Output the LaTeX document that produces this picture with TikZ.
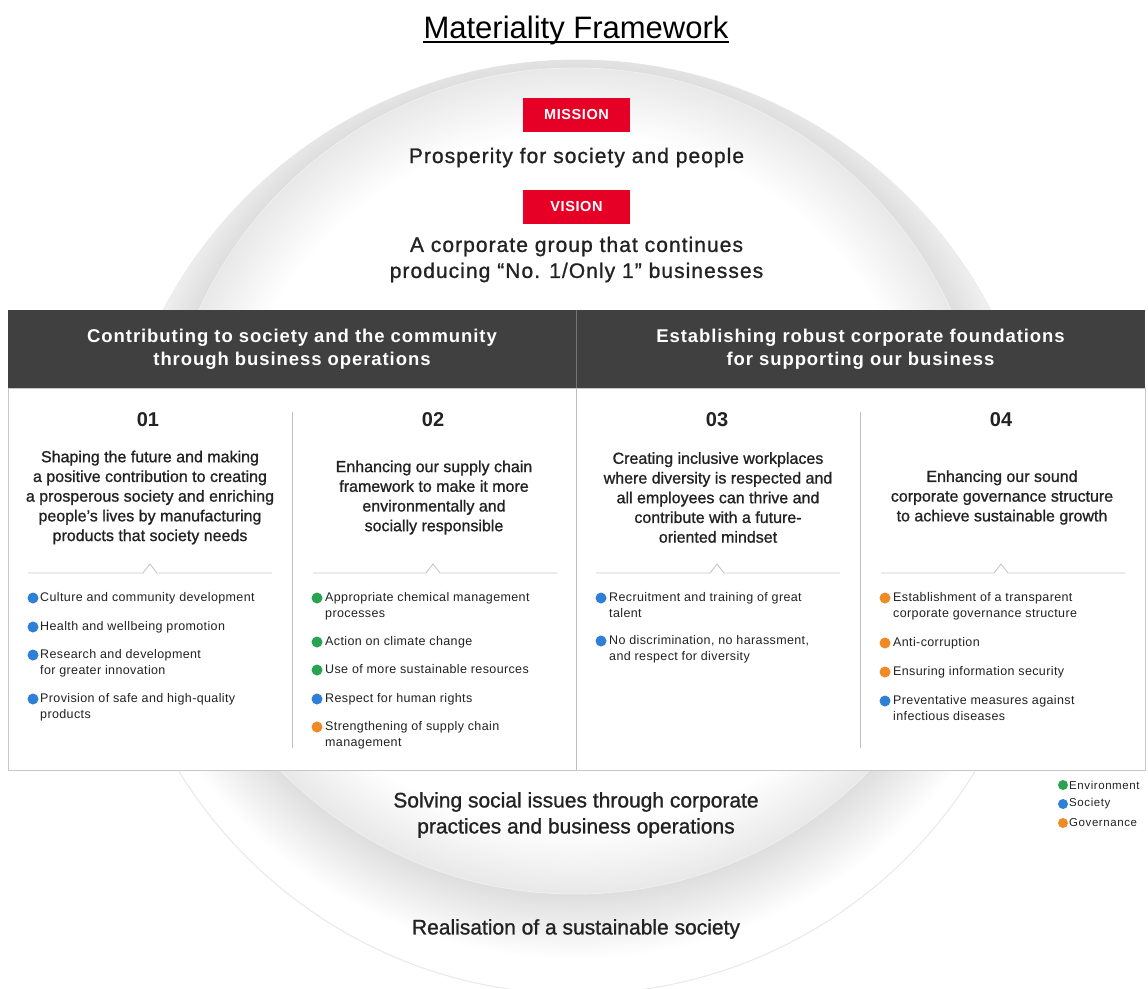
\documentclass[tikz,border=0pt]{standalone}
\usepackage{fontspec}
\setmainfont{Liberation Sans}
\newfontfamily\medfont[FakeBold=1]{Liberation Sans}
\definecolor{mred}{RGB}{230,0,38}
\definecolor{banddark}{RGB}{64,64,64}
\definecolor{inkdark}{RGB}{34,34,34}
\definecolor{envgreen}{RGB}{40,164,80}
\definecolor{socblue}{RGB}{45,128,214}
\definecolor{govorange}{RGB}{240,138,36}
\pgfdeclareradialshading{innerfade}{\pgfpoint{0bp}{0bp}}{color(0bp)=(white); color(21bp)=(white); color(25bp)=(black!9); color(50bp)=(black!9)}
\pgfdeclareradialshading{shadowfade}{\pgfpoint{0bp}{0bp}}{color(0bp)=(black!13); color(21.6bp)=(black!13); color(25bp)=(white); color(50bp)=(white)}

\begin{document}
\begin{tikzpicture}[x=1pt, y=-1pt,
  tagbox/.style={fill=mred, text=white, minimum width=107pt, minimum height=34pt, inner sep=0pt,
    font=\fontsize{14.5}{16}\selectfont\bfseries\addfontfeature{LetterSpace=4}},
  leadtext/.style={text=inkdark, inner sep=0pt, align=center,
    font=\medfont\fontsize{21}{26}\selectfont\addfontfeature{LetterSpace=5}},
  band/.style={fill=banddark, text=white, inner sep=0pt, align=center, minimum height=78pt,
    font=\fontsize{18.5}{23}\selectfont\bfseries\addfontfeature{LetterSpace=5}},
  numtext/.style={text=inkdark, inner sep=0pt, font=\fontsize{20}{24}\selectfont\bfseries},
  desctext/.style={text=inkdark, inner sep=0pt, align=center, font=\medfont\fontsize{16}{19.7}\selectfont},
  itemtext/.style={text=inkdark, inner sep=0pt, align=left, anchor=north west,
    font=\fontsize{12.5}{16.5}\selectfont\addfontfeature{LetterSpace=3}},
  bulletdot/.style={circle, inner sep=0pt, minimum size=11pt},
  caretline/.style={draw=black!22, line width=0.9pt},
  coldiv/.style={draw=black!25, line width=0.8pt},
  foottext/.style={text=inkdark, inner sep=0pt, align=center, font=\medfont\fontsize{21}{26}\selectfont},
  keytext/.style={text=inkdark, inner sep=0pt, anchor=west,
    font=\fontsize{11.5}{14}\selectfont\addfontfeature{LetterSpace=5}}]

\useasboundingbox (0,0) rectangle (1148,988);

% the two spheres
\fill[white, draw=black!9, line width=1pt] (577,527) circle[radius=467];
\begin{scope}
  \clip (577,527) circle[radius=467];
  \shade[shading=shadowfade] (575,481) circle[radius=478];
\end{scope}
\shade[shading=innerfade] (575,481) circle[radius=413];
\draw[black!6, line width=0.8pt] (575,481) circle[radius=413];

% title
\node[inner sep=0pt, anchor=base, text=black, font=\fontsize{31}{36}\selectfont] (title) at (576,38) {Materiality Framework};
\draw[line width=1.6pt] ([yshift=-4pt]title.base west) -- ([yshift=-4pt]title.base east);

% mission and vision
\node[tagbox] (mission) at (576.5,115) {MISSION};
\node[leadtext, anchor=base] (missiontxt) at (576.5,163) {Prosperity for society and people};
\node[tagbox] (vision) at (576.5,206.5) {VISION};
\node[leadtext] (visiontxt) at (576.5,259.5) {A corporate group that continues\\producing “No. 1/Only 1” businesses};

% header band and panel
\node[band, minimum width=568pt] (bandL) at (292,349) {Contributing to society and the community\\through business operations};
\node[band, minimum width=569pt] (bandR) at (860.5,349) {Establishing robust corporate foundations\\for supporting our business};
\draw[black!55, line width=0.8pt] (bandL.north east) -- (bandL.south east);
\node[draw=black!22, fill=white, line width=0.9pt, minimum width=1137pt, minimum height=382pt, inner sep=0pt] (panel) at (576.5,579) {};
\draw[coldiv] (bandL.south east) -- (bandL.south east |- panel.south);
\draw[coldiv] (292,412) -- (292,748);
\draw[coldiv] (860,412) -- (860,748);

% numbers
\foreach \x/\n in {148/01, 433/02, 717/03, 1001/04}
  \node[numtext] (num\n) at (\x,420) {\n};

% themes
\node[desctext] (desc1) at (150,497.5) {Shaping the future and making\\a positive contribution to creating\\a prosperous society and enriching\\people’s lives by manufacturing\\products that society needs};
\node[desctext] (desc2) at (434,497.5) {Enhancing our supply chain\\framework to make it more\\environmentally and\\socially responsible};
\node[desctext] (desc3) at (718,497.5) {Creating inclusive workplaces\\where diversity is respected and\\all employees can thrive and\\contribute with a future-\\oriented mindset};
\node[desctext] (desc4) at (1002,497.5) {Enhancing our sound\\corporate governance structure\\to achieve sustainable growth};

% caret rules
\foreach \a/\c/\b in {28/150/272, 313/433/557, 596/717/840, 881/1001/1125}
  \draw[caretline] (\a,573) -- (\c-7,573) -- (\c,564) -- (\c+7,573) -- (\b,573);

% items of column 01
\foreach \y/\col/\txt [count=\i] in {598/socblue/{Culture and community development},
    627/socblue/{Health and wellbeing promotion},
    655/socblue/{Research and development\\for greater innovation},
    699/socblue/{Provision of safe and high-quality\\products}} {
  \node[bulletdot, fill=\col] (c1d\i) at (33,\y) {};
  \node[itemtext] (c1i\i) at (40,\y-5.9) {\txt};
}
% items of column 02
\foreach \y/\col/\txt [count=\i] in {598/envgreen/{Appropriate chemical management\\processes},
    642/envgreen/{Action on climate change},
    670/envgreen/{Use of more sustainable resources},
    699/socblue/{Respect for human rights},
    727/govorange/{Strengthening of supply chain\\management}} {
  \node[bulletdot, fill=\col] (c2d\i) at (317,\y) {};
  \node[itemtext] (c2i\i) at (325,\y-5.9) {\txt};
}
% items of column 03
\foreach \y/\col/\txt [count=\i] in {598/socblue/{Recruitment and training of great\\talent},
    641/socblue/{No discrimination, no harassment,\\and respect for diversity}} {
  \node[bulletdot, fill=\col] (c3d\i) at (601,\y) {};
  \node[itemtext] (c3i\i) at (609,\y-5.9) {\txt};
}
% items of column 04
\foreach \y/\col/\txt [count=\i] in {598/govorange/{Establishment of a transparent\\corporate governance structure},
    643/govorange/{Anti-corruption},
    672/govorange/{Ensuring information security},
    701/socblue/{Preventative measures against\\infectious diseases}} {
  \node[bulletdot, fill=\col] (c4d\i) at (885,\y) {};
  \node[itemtext] (c4i\i) at (893,\y-5.9) {\txt};
}

% legend
\foreach \y/\col/\txt [count=\i] in {785/envgreen/Environment, 804/socblue/Society, 823/govorange/Governance} {
  \node[bulletdot, minimum size=10pt, fill=\col] (keyd\i) at (1063,\y) {};
  \node[keytext] (keyt\i) at (1069,\y) {\txt};
}

% outcomes
\node[foottext] (solving) at (576,815) {Solving social issues through corporate\\practices and business operations};
\node[foottext] (realise) at (576,929) {Realisation of a sustainable society};
\end{tikzpicture}
\end{document}
